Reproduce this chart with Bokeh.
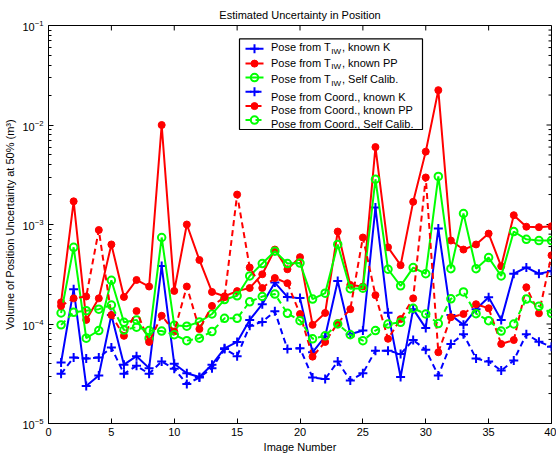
from bokeh.plotting import figure
from bokeh.models import Range1d, LinearScale, FixedTicker
from bokeh.embed import file_html
from bokeh.resources import INLINE
from bokeh.core.properties import value

# ---------------- data ----------------
image_number = list(range(1, 41))

tiw_known_k = [4.1e-5, 2.24e-4, 2.38e-5, 3.04e-5, 1.23e-4, 3.9e-5, 4.75e-5, 3.6e-5, 3.83e-4, 3.98e-5,
               3.2e-5, 2.93e-5, 3.9e-5, 5.7e-5, 6.6e-5, 1.10e-4, 1.58e-4, 2.61e-4, 1.87e-4, 1.82e-4,
               5.2e-5, 7.5e-5, 2.71e-4, 7.9e-5, 8.6e-5, 1.48e-3, 1.30e-4, 2.93e-5, 1.41e-4, 9.1e-5,
               9.1e-4, 1.23e-4, 9.8e-5, 1.41e-4, 1.86e-4, 1.10e-4, 3.2e-4, 3.7e-4, 3.2e-4, 3.4e-4]

tiw_known_pp = [1.65e-4, 1.71e-3, 1.10e-4, 1.81e-4, 6.3e-4, 1.87e-4, 2.77e-4, 2.38e-4, 1.0e-2, 2.15e-4,
                1.0e-3, 4.4e-4, 2.1e-4, 1.9e-4, 2.14e-4, 2.3e-4, 3.16e-4, 5.6e-4, 3.55e-4, 4.7e-4,
                9.8e-5, 1.29e-4, 8.5e-4, 2.47e-4, 2.38e-4, 6.0e-3, 5.9e-4, 3.9e-4, 1.69e-3, 5.4e-3,
                2.24e-2, 6.9e-4, 5.6e-4, 6.3e-4, 8.1e-4, 3.8e-4, 1.24e-3, 9.5e-4, 9.4e-4, 9.6e-4]

tiw_self_calib = [1.29e-4, 5.9e-4, 7.2e-5, 8.6e-5, 2.75e-4, 1.04e-4, 1.10e-4, 7.2e-5, 7.4e-4, 9.7e-5,
                  9.5e-5, 1.05e-4, 1.26e-4, 1.76e-4, 1.92e-4, 3.04e-4, 4.05e-4, 5.4e-4, 4.05e-4, 4.1e-4,
                  1.78e-4, 2.04e-4, 6.3e-4, 2.26e-4, 2.29e-4, 2.85e-3, 3.55e-4, 2.42e-4, 3.69e-4, 3.2e-4,
                  3.04e-3, 3.6e-4, 1.29e-3, 3.6e-4, 4.65e-4, 3.04e-4, 8.5e-4, 7.1e-4, 6.9e-4, 6.9e-4]

coord_known_k = [3.16e-5, 4.6e-5, 4.5e-5, 4.6e-5, 5.8e-5, 3.16e-5, 3.8e-5, 3.16e-5, 4.2e-5, 3.55e-5,
                 2.5e-5, 2.9e-5, 3.6e-5, 5.6e-5, 4.75e-5, 9.6e-5, 1.05e-4, 1.34e-4, 5.6e-5, 5.7e-5,
                 2.9e-5, 2.8e-5, 4.2e-5, 2.7e-5, 3.2e-5, 5.4e-5, 5.4e-5, 5.0e-5, 6.9e-5, 5.5e-5,
                 3.04e-5, 6.3e-5, 7.9e-5, 4.5e-5, 4.2e-5, 3.4e-5, 4.3e-5, 7.9e-5, 6.65e-5, 5.9e-5]

coord_known_pp = [1.52e-4, 1.81e-4, 1.89e-4, 8.8e-4, 1.23e-4, 7.6e-5, 1.35e-4, 6.6e-5, 1.21e-4, 8.4e-5,
                  2.38e-4, 8.9e-5, 1.52e-4, 1.86e-4, 2.0e-3, 3.7e-4, 2.3e-4, 2.9e-4, 2.57e-4, 1.26e-4,
                  4.7e-5, 6.6e-5, 1.02e-4, 1.41e-4, 7.4e-4, 1.95e-4, 7.1e-5, 1.12e-4, 1.81e-4, 2.97e-3,
                  5.2e-5, 1.17e-4, 1.26e-4, 1.58e-4, 1.44e-4, 6.3e-5, 6.9e-5, 2.34e-4, 1.28e-4, 4.9e-4]

coord_self_calib = [9.8e-5, 1.31e-4, 1.36e-4, 1.41e-4, 1.55e-4, 8.7e-5, 9.3e-5, 8.6e-5, 8.5e-5, 7.8e-5,
                    6.8e-5, 7.2e-5, 8.4e-5, 1.14e-4, 1.14e-4, 1.67e-4, 1.89e-4, 2.0e-4, 1.28e-4, 1.08e-4,
                    7.1e-5, 7.6e-5, 1.0e-4, 7.8e-5, 6.8e-5, 8.6e-5, 1.0e-4, 1.04e-4, 1.44e-4, 1.26e-4,
                    1.01e-4, 1.79e-4, 2.1e-4, 1.27e-4, 1.08e-4, 8.5e-5, 1.0e-4, 1.78e-4, 1.51e-4, 1.28e-4]

x_ticks = [0, 5, 10, 15, 20, 25, 30, 35, 40]
y_ticks = [1e-5, 1e-4, 1e-3, 1e-2, 1e-1]
y_minor = [m * d for d in [1e-5, 1e-4, 1e-3, 1e-2] for m in range(2, 10)]

legend_prefix = ["Pose from T", "Pose from T", "Pose from T",
                 "Pose from Coord., known K", "Pose from Coord., known PP", "Pose from Coord., Self Calib."]
legend_sub = ["IW", "IW", "IW"]
legend_suffix = [", known K", ", known PP", ", Self Calib."]

FONT = "Liberation Sans"

# frame in canvas pixels
FL, FR, FT, FB = 48, 551, 25, 425

# ---------------- figure ----------------
p = figure(width=556, height=455, y_axis_type="log",
           x_range=Range1d(0, 40), y_range=Range1d(1e-5, 1e-1),
           output_backend="svg", toolbar_location=None,
           min_border_left=FL, min_border_right=556 - FR, min_border_top=FT, min_border_bottom=455 - FB,
           title="Estimated Uncertainty in Position")
p.title.text_font = FONT
p.title.text_font_size = "11px"
p.title.text_font_style = "normal"
p.title.text_color = "black"
p.title.align = "center"
p.grid.visible = False
p.outline_line_color = "black"
p.outline_line_alpha = 1.0
p.background_fill_color = "white"
p.border_fill_color = "white"

for ax in (p.xaxis[0], p.yaxis[0]):
    ax.axis_line_color = "black"
    ax.major_tick_line_color = "black"
    ax.minor_tick_line_color = "black"
    ax.major_tick_in = 5
    ax.major_tick_out = 0
    ax.minor_tick_in = 3
    ax.minor_tick_out = 0
    ax.major_label_text_font = FONT
    ax.major_label_text_font_size = "11px"
    ax.major_label_text_color = "black"
    ax.axis_label_text_font = FONT
    ax.axis_label_text_font_size = "11px"
    ax.axis_label_text_font_style = "normal"
    ax.axis_label_text_color = "black"

p.xaxis.ticker = FixedTicker(ticks=x_ticks)
p.yaxis.ticker = FixedTicker(ticks=y_ticks, minor_ticks=y_minor)
p.xaxis.minor_tick_line_color = None
p.xaxis.axis_label = "Image Number"
p.yaxis.axis_label = "Volume of Position Uncertainty at 50% (m³)"
p.xaxis.major_label_standoff = 4
p.yaxis.major_label_standoff = 5
p.xaxis.axis_label_standoff = 2
p.yaxis.axis_label_standoff = 3

# pixel-coordinate ranges for the mirrored ticks and the legend
p.extra_x_ranges = {"px": Range1d(FL, FR)}
p.extra_y_ranges = {"px": Range1d(FB, FT)}
p.extra_y_scales = {"px": LinearScale()}
kw = dict(x_range_name="px", y_range_name="px")

# mirrored ticks (top and right), MATLAB box style
p.segment(x0=x_ticks, x1=x_ticks, y0=[FT] * len(x_ticks), y1=[FT + 5] * len(x_ticks),
          line_color="black", line_width=1, y_range_name="px")
p.segment(x0=[FR] * len(y_ticks), x1=[FR - 5] * len(y_ticks), y0=y_ticks, y1=y_ticks,
          line_color="black", line_width=1, x_range_name="px")
p.segment(x0=[FR] * len(y_minor), x1=[FR - 3] * len(y_minor), y0=y_minor, y1=y_minor,
          line_color="black", line_width=1, x_range_name="px")

# ---------------- series ----------------
series = [
    (tiw_known_k, "blue", "solid", "cross"),
    (tiw_known_pp, "red", "solid", "dot"),
    (tiw_self_calib, "lime", "solid", "open"),
    (coord_known_k, "blue", "6 4", "cross"),
    (coord_known_pp, "red", "6 4", "dot"),
    (coord_self_calib, "lime", "6 4", "open"),
]

def draw_marker(xs, ys, color, kind, **extra):
    if kind == "cross":
        p.scatter(xs, ys, marker="cross", size=9, line_color=color, line_width=2, **extra)
    elif kind == "dot":
        p.scatter(xs, ys, marker="circle", size=7, fill_color=color, line_color=color, line_width=1, **extra)
    else:
        p.scatter(xs, ys, marker="circle", size=7.5, fill_color=None, line_color=color, line_width=2, **extra)

for vals, color, dash, kind in series:
    p.line(image_number, vals, line_color=color, line_width=2, line_dash=dash)
    draw_marker(image_number, vals, color, kind)

# ---------------- legend ----------------
p.quad(left=[239], right=[422], top=[38.5], bottom=[129.5],
       fill_color="white", line_color="black", line_width=1.2, **kw)

sample_y = [48.3, 63.3, 77.3, 91.7, 106, 120]
text_y = [46.7, 62.5, 78.8, 96.7, 110.3, 123.5]
for i, (vals, color, dash, kind) in enumerate(series):
    p.line([245, 263], [sample_y[i], sample_y[i]], line_color=color, line_width=2, line_dash=dash, **kw)
    draw_marker([254], [sample_y[i]], color, kind, **kw)

p.text(x=[270.5] * 6, y=text_y, text=legend_prefix, text_baseline="middle", text_align="left",
       text_font=value(FONT), text_font_size="11px", text_color="black", **kw)
p.text(x=[330.8] * 3, y=[t + 4.2 for t in text_y[:3]], text=legend_sub, text_baseline="middle",
       text_align="left", text_font=value(FONT), text_font_size="8px", text_color="black", **kw)
p.text(x=[341.5] * 3, y=text_y[:3], text=legend_suffix, text_baseline="middle", text_align="left",
       text_font=value(FONT), text_font_size="11px", text_color="black", **kw)

open("out.html", "w").write(file_html(p, INLINE))
